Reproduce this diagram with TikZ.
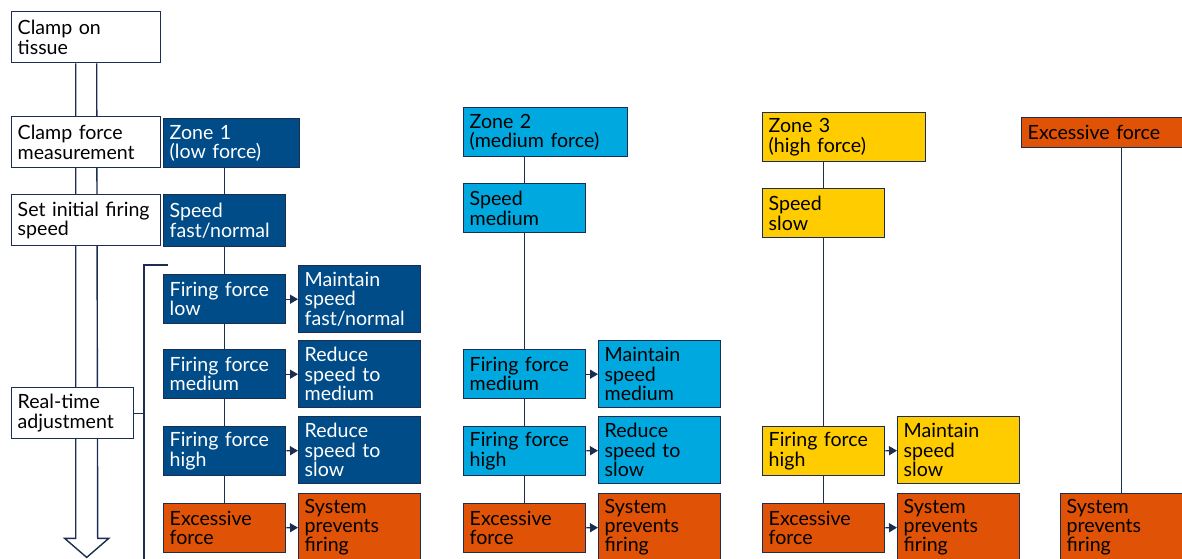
\documentclass[tikz,border=0pt]{standalone}
\usepackage{fontspec}
\setmainfont{Lato}
\usetikzlibrary{arrows.meta,positioning,backgrounds}
\definecolor{navy}{HTML}{1B2D50}
\definecolor{zonedeep}{HTML}{004C89}
\definecolor{zonelight}{HTML}{00A8E0}
\definecolor{zoneamber}{HTML}{FFCC00}
\definecolor{zonealarm}{HTML}{E05206}

\begin{document}
\begin{tikzpicture}[
  x=0.5pt, y=-0.5pt,
  box/.style={draw=navy, line width=0.7pt, anchor=north west, align=left, inner xsep=3pt, inner ysep=0pt, font=\fontsize{9.8}{9.7}\selectfont},
  side/.style={minimum width=74.5pt, text width=68.5pt, minimum height=25.5pt},
  std/.style={minimum width=61pt, text width=55pt, minimum height=24.5pt},
  tall/.style={minimum width=61pt, text width=55pt, minimum height=33.5pt},
  plain/.style={fill=white},
  deep/.style={fill=zonedeep, text=white},
  light/.style={fill=zonelight},
  amber/.style={fill=zoneamber},
  alarm/.style={fill=zonealarm},
  link/.style={draw=navy, line width=0.7pt},
  arr/.style={link, -{Triangle[length=4pt, width=4.5pt]}}
]
\useasboundingbox (0,0) rectangle (1182,558);
\node[box, side, plain] (clamp) at (11,11) {Clamp on\\tissue};
\node[box, side, plain] (meas) at (11,116) {Clamp force\\measurement};
\node[box, side, plain] (init) at (11,194) {Set initial firing\\speed};
\node[box, std, plain, minimum height=25.5pt] (adjust) at (11,387) {Real-time\\adjustment};

\node[box, std, deep, minimum width=68pt, text width=62pt] (zoneA) at (163,118) {Zone 1\\(low force)};
\node[box, std, deep, minimum height=26pt] (speedA) at (163,194) {Speed\\fast/normal};
\node[box, std, deep] (lowA) at (163,274) {Firing force\\low};
\node[box, tall, deep] (keepA) at (298,265) {Maintain\\speed\\fast/normal};
\node[box, std, deep] (medA) at (163,349) {Firing force\\medium};
\node[box, tall, deep] (redA) at (298,340) {Reduce\\speed to\\medium};
\node[box, std, deep] (highA) at (163,426) {Firing force\\high};
\node[box, tall, deep] (slowA) at (298,416) {Reduce\\speed to\\slow};
\node[box, std, alarm] (excA) at (163,503) {Excessive\\force};
\node[box, tall, alarm] (haltA) at (298,493) {System\\prevents\\firing};

\node[box, std, light, minimum width=82pt, text width=76pt] (zoneB) at (463,107) {Zone 2\\(medium force)};
\node[box, std, light] (speedB) at (463,183) {Speed\\medium};
\node[box, std, light] (medB) at (463,349) {Firing force\\medium};
\node[box, tall, light] (keepB) at (598,340) {Maintain\\speed\\medium};
\node[box, std, light] (highB) at (463,426) {Firing force\\high};
\node[box, tall, light] (slowB) at (598,416) {Reduce\\speed to\\slow};
\node[box, std, alarm] (excB) at (463,503) {Excessive\\force};
\node[box, tall, alarm] (haltB) at (598,493) {System\\prevents\\firing};

\node[box, std, amber, minimum width=81.5pt, text width=75.5pt] (zoneC) at (762,112) {Zone 3\\(high force)};
\node[box, std, amber] (speedC) at (762,188) {Speed\\slow};
\node[box, std, amber] (highC) at (762,426) {Firing force\\high};
\node[box, tall, amber] (keepC) at (897,416) {Maintain\\speed\\slow};
\node[box, std, alarm] (excC) at (762,503) {Excessive\\force};
\node[box, tall, alarm] (haltC) at (897,493) {System\\prevents\\firing};

\node[box, std, alarm, minimum width=82pt, text width=76pt, minimum height=15pt] (excD) at (1021,117) {Excessive force};
\node[box, tall, alarm] (haltD) at (1060,493) {System\\prevents\\firing};

\begin{scope}[on background layer]
\draw[link, fill=white] ([xshift=-5.25pt]clamp.south) -- ++(0,475) -- ++(-11,0) -- ++(22,19) -- ++(22,-19) -- ++(-11,0) -- ([xshift=5.25pt]clamp.south);
\end{scope}

\coordinate (brtop) at (168,265);
\coordinate (brbot) at (144,560);
\draw[link] (brtop) -- (brtop -| brbot) -- (brbot);
\draw[link] (adjust.east) -- (adjust.east -| brbot);

\draw[link] (zoneA.south -| speedA) -- (speedA);
\draw[link] (speedA) -- (lowA);
\draw[link] (lowA) -- (medA);
\draw[link] (medA) -- (highA);
\draw[link] (highA) -- (excA);
\draw[arr] (lowA) -- (keepA);
\draw[arr] (medA) -- (redA);
\draw[arr] (highA) -- (slowA);
\draw[arr] (excA) -- (haltA);

\draw[link] (zoneB.south -| speedB) -- (speedB);
\draw[link] (speedB) -- (medB);
\draw[link] (medB) -- (highB);
\draw[link] (highB) -- (excB);
\draw[arr] (medB) -- (keepB);
\draw[arr] (highB) -- (slowB);
\draw[arr] (excB) -- (haltB);

\draw[link] (zoneC.south -| speedC) -- (speedC);
\draw[link] (speedC) -- (highC);
\draw[link] (highC) -- (excC);
\draw[arr] (highC) -- (keepC);
\draw[arr] (excC) -- (haltC);

\draw[link] (excD.south -| haltD) -- (haltD);
\end{tikzpicture}
\end{document}
